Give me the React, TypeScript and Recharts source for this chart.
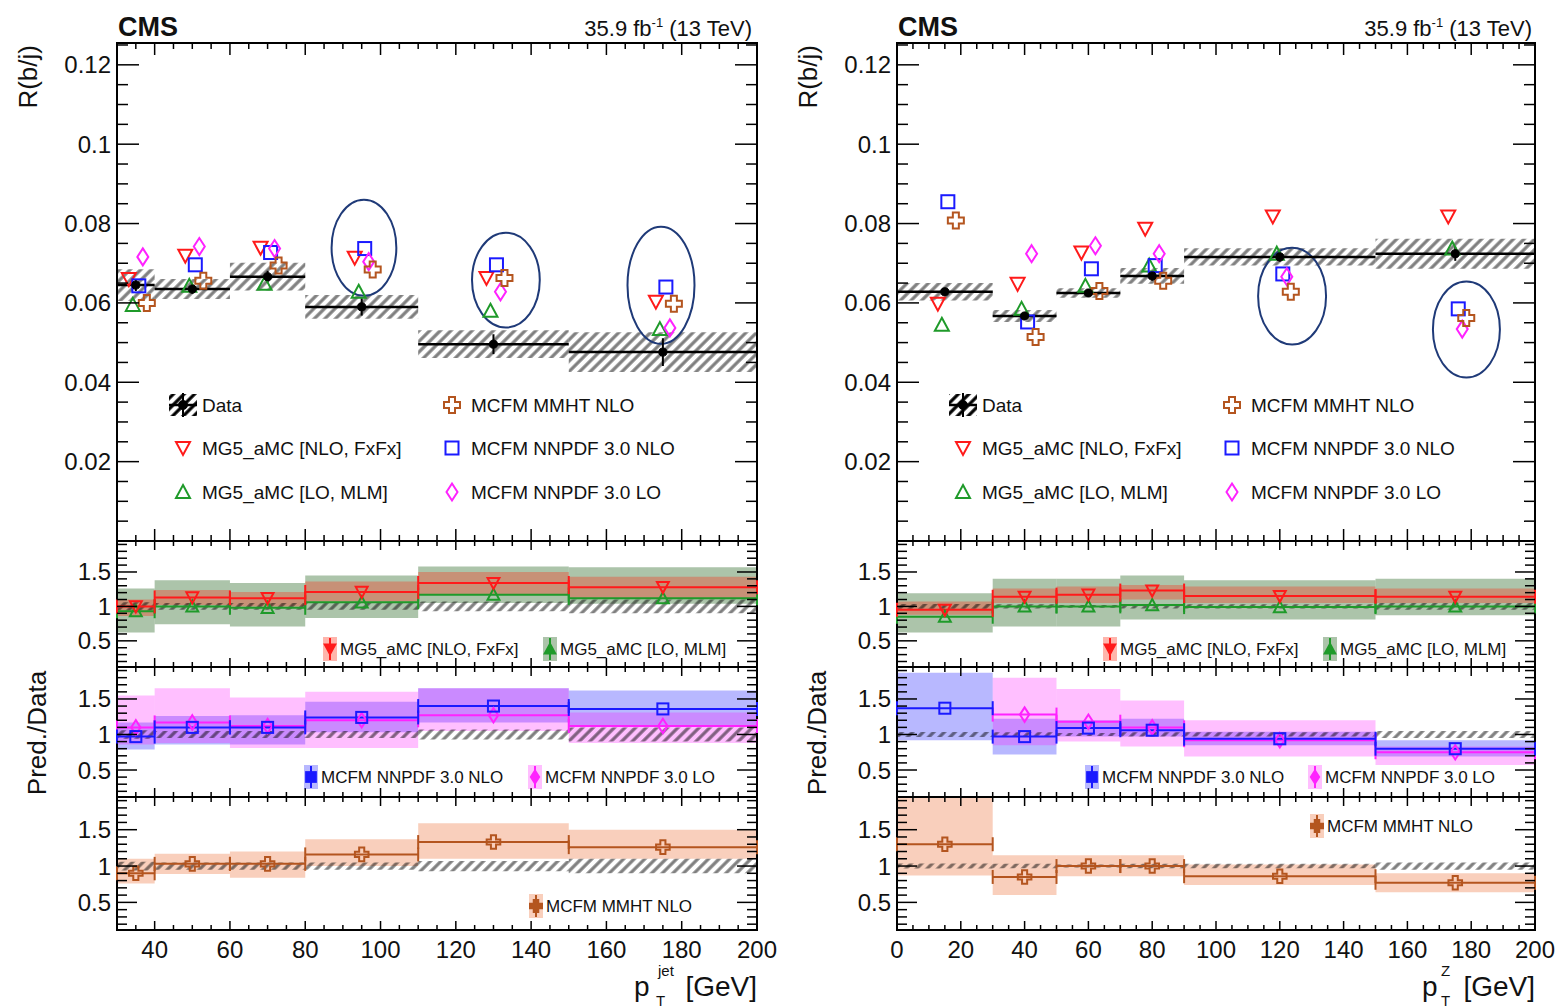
import React from 'react'
import { ComposedChart, Scatter, XAxis, YAxis, ErrorBar, ReferenceArea } from 'recharts'

const FONT = '"Liberation Sans", Arial, Helvetica, sans-serif'
const RED = '#ff1a1a'
const GREEN = '#1f9a2a'
const BLUE = '#1a1aff'
const MAGENTA = '#ff22ff'
const BROWN = '#b4551f'
const RING = '#1f3a78'

// ---- binning
const jetLo = [30, 40, 60, 80, 110, 150]
const jetHi = [40, 60, 80, 110, 150, 200]
const jetMid = [35, 50, 70, 95, 130, 175]
const zLo = [0, 30, 50, 70, 90, 150]
const zHi = [30, 50, 70, 90, 150, 200]
const zMid = [15, 40, 60, 80, 120, 175]

// ---- R(b/j) vs pT jet
const jetData = [0.0645, 0.0635, 0.0666, 0.059, 0.0496, 0.0476]
const jetDataSyst = [0.004, 0.0025, 0.0035, 0.003, 0.0035, 0.005]
const jetDataStat = [0.0015, 0.0012, 0.0015, 0.0022, 0.0025, 0.0035]
const jetNloFxFx = [0.066, 0.0719, 0.0739, 0.0714, 0.0663, 0.0603]
const jetLoMlm = [0.0595, 0.0643, 0.0648, 0.0628, 0.058, 0.0534]
const jetMmht = [0.06, 0.0656, 0.0694, 0.0684, 0.0663, 0.0598]
const jetNnpdfNlo = [0.0643, 0.0696, 0.0727, 0.0737, 0.0696, 0.064]
const jetNnpdfLo = [0.0716, 0.0742, 0.0737, 0.0704, 0.0628, 0.0537]

// ---- R(b/j) vs pT Z
const zData = [0.0628, 0.0567, 0.0625, 0.0668, 0.0716, 0.0724]
const zDataSyst = [0.0022, 0.0015, 0.0012, 0.002, 0.0022, 0.0038]
const zDataStat = [0.001, 0.001, 0.001, 0.0012, 0.0012, 0.0018]
const zNloFxFx = [0.0598, 0.0648, 0.0727, 0.0787, 0.0818, 0.0818]
const zLoMlm = [0.0545, 0.0585, 0.0643, 0.0694, 0.0724, 0.0737]
const zMmht = [0.0808, 0.0514, 0.063, 0.0656, 0.0628, 0.0562]
const zNnpdfNlo = [0.0855, 0.0552, 0.0686, 0.0694, 0.0673, 0.0585]
const zNnpdfLo = [null, 0.0724, 0.0744, 0.0724, 0.0666, 0.0534]

// ---- highlighted regions (ellipses), in data units
const jetRingX1 = [87, 124.3, 165.6]
const jetRingX2 = [104.2, 142.3, 183.4]
const jetRingY1 = [0.0618, 0.0538, 0.0497]
const jetRingY2 = [0.086, 0.0777, 0.0792]
const zRingX1 = [113.2, 168]
const zRingX2 = [134.5, 189]
const zRingY1 = [0.0495, 0.0412]
const zRingY2 = [0.0739, 0.0654]

// ---- ratios, pT jet
const jetDataRel = [0.06, 0.05, 0.05, 0.05, 0.07, 0.1]
const jetRNlo = [1.0, 1.13, 1.12, 1.21, 1.34, 1.28]
const jetRNloLo = [0.86, 1.02, 1.0, 1.07, 1.17, 1.12]
const jetRNloHi = [1.1, 1.24, 1.21, 1.36, 1.5, 1.43]
const jetRMlm = [0.93, 1.0, 0.98, 1.06, 1.17, 1.12]
const jetRMlmLo = [0.62, 0.74, 0.71, 0.83, 1.05, 1.04]
const jetRMlmHi = [1.26, 1.38, 1.34, 1.45, 1.58, 1.57]
const jetRNnNlo = [0.97, 1.1, 1.1, 1.24, 1.4, 1.36]
const jetRNnNloLo = [0.79, 0.86, 0.86, 1.03, 1.17, 1.12]
const jetRNnNloHi = [1.17, 1.26, 1.27, 1.46, 1.65, 1.62]
const jetRNnLo = [1.1, 1.17, 1.12, 1.2, 1.27, 1.12]
const jetRNnLoLo = [0.86, 0.88, 0.81, 0.81, 1.05, 0.88]
const jetRNnLoHi = [1.55, 1.65, 1.52, 1.6, 1.65, 1.31]
const jetRMmht = [0.9, 1.03, 1.03, 1.16, 1.33, 1.26]
const jetRMmhtLo = [0.76, 0.89, 0.84, 1.0, 1.1, 1.1]
const jetRMmhtHi = [1.1, 1.17, 1.2, 1.37, 1.59, 1.5]

// ---- ratios, pT Z
const zDataRel = [0.035, 0.03, 0.02, 0.03, 0.03, 0.05]
const zRNlo = [0.95, 1.14, 1.17, 1.23, 1.15, 1.14]
const zRNloLo = [0.88, 1.05, 1.05, 1.1, 1.05, 1.05]
const zRNloHi = [1.07, 1.26, 1.29, 1.31, 1.29, 1.26]
const zRMlm = [0.85, 1.0, 1.0, 1.02, 0.99, 1.0]
const zRMlmLo = [0.62, 0.71, 0.71, 0.81, 0.81, 0.87]
const zRMlmHi = [1.19, 1.4, 1.4, 1.45, 1.38, 1.4]
const zRNnNlo = [1.37, 0.97, 1.09, 1.06, 0.94, 0.8]
const zRNnNloLo = [0.92, 0.72, 0.97, 0.97, 0.85, 0.69]
const zRNnNloHi = [1.87, 1.22, 1.2, 1.22, 1.04, 0.92]
const zRNnLo = [null, 1.28, 1.18, 1.1, 0.92, 0.75]
const zRNnLoLo = [null, 0.85, 0.9, 0.83, 0.69, 0.57]
const zRNnLoHi = [null, 1.8, 1.64, 1.48, 1.2, 0.83]
const zRMmht = [1.3, 0.85, 1.0, 1.0, 0.86, 0.77]
const zRMmhtLo = [0.87, 0.6, 0.86, 0.86, 0.74, 0.64]
const zRMmhtHi = [1.98, 1.15, 1.15, 1.15, 1.02, 0.9]

// ---- axes
const mainMajor = [0.02, 0.04, 0.06, 0.08, 0.1, 0.12]
const mainLabels = ['0.02', '0.04', '0.06', '0.08', '0.1', '0.12']
const ratioMajor = [0.5, 1, 1.5]
const ratioLabels = ['0.5', '1', '1.5']
const jetXMajor = [40, 60, 80, 100, 120, 140, 160, 180, 200]
const zXMajor = [0, 20, 40, 60, 80, 100, 120, 140, 160, 180, 200]

const MAIN_DOMAIN: [number, number] = [0, 0.1255]
const RATIO_DOMAIN: [number, number] = [0.12, 1.95]

function steps(a: number, b: number, s: number, skip: number[]) {
  const out: number[] = []
  const n = Math.round((b - a) / s)
  for (let i = 0; i <= n; i++) {
    const v = +(a + i * s).toFixed(6)
    if (!skip.some((m) => Math.abs(m - v) < 1e-9)) out.push(v)
  }
  return out
}

const mainMinor = steps(0.005, 0.125, 0.005, mainMajor)
const ratioMinor = steps(0.2, 1.9, 0.1, ratioMajor)
const jetXMinor = steps(30, 200, 5, jetXMajor)
const zXMinor = steps(0, 200, 5, zXMajor)

// layout
const LX = 117
const LW = 640
const RX = 897
const RW = 638
const rows = [
  { top: 43, h: 498 },
  { top: 541, h: 126 },
  { top: 667, h: 130 },
  { top: 797, h: 133 },
]

type Kind = 'triDown' | 'triUp' | 'square' | 'diamond' | 'cross' | 'dot'

function Marker({ cx, cy, kind, color, s = 1, filled = false, dx = 0 }: {
  cx?: number; cy?: number; kind: Kind; color: string; s?: number; filled?: boolean; dx?: number
}) {
  if (cx == null || cy == null || isNaN(cx) || isNaN(cy)) return null
  const x = cx + dx
  const st = { stroke: color, strokeWidth: 2, fill: filled ? color : 'none' }
  if (kind === 'triDown')
    return <polygon points={`${x - 7 * s},${cy - 6 * s} ${x + 7 * s},${cy - 6 * s} ${x},${cy + 7 * s}`} {...st} />
  if (kind === 'triUp')
    return <polygon points={`${x},${cy - 7 * s} ${x + 7 * s},${cy + 6 * s} ${x - 7 * s},${cy + 6 * s}`} {...st} />
  if (kind === 'square')
    return <rect x={x - 6.5 * s} y={cy - 6.5 * s} width={13 * s} height={13 * s} {...st} />
  if (kind === 'diamond')
    return <polygon points={`${x},${cy - 8.5 * s} ${x + 5.5 * s},${cy} ${x},${cy + 8.5 * s} ${x - 5.5 * s},${cy}`} {...st} />
  if (kind === 'cross') {
    const a = 3 * s
    const L = 8 * s
    const d = `M${x - a},${cy - L}H${x + a}V${cy - a}H${x + L}V${cy + a}H${x + a}V${cy + L}H${x - a}V${cy + a}H${x - L}V${cy - a}H${x - a}Z`
    return <path d={d} {...st} />
  }
  return <circle cx={x} cy={cy} r={4.5 * s} fill={color} stroke={color} />
}

function makeXTick(plotH: number, majors: number[], showLabel: boolean, majLen: number, minLen: number) {
  return (p: any) => {
    const v = p.payload.value
    const major = majors.some((m) => Math.abs(m - v) < 1e-9)
    const len = major ? majLen : minLen
    return (
      <g>
        <line x1={p.x} x2={p.x} y1={p.y} y2={p.y - len} stroke="#000" strokeWidth={1.5} />
        <line x1={p.x} x2={p.x} y1={p.y - plotH} y2={p.y - plotH + len} stroke="#000" strokeWidth={1.5} />
        {showLabel && major && (
          <text x={p.x} y={p.y + 28} textAnchor="middle" fontSize={24} fontFamily={FONT} fill="#111">
            {v}
          </text>
        )}
      </g>
    )
  }
}

function makeYTick(plotW: number, majors: number[], labels: string[], majLen: number, minLen: number) {
  return (p: any) => {
    const v = p.payload.value
    const idx = majors.findIndex((m) => Math.abs(m - v) < 1e-9)
    const len = idx >= 0 ? majLen : minLen
    return (
      <g>
        <line x1={p.x} x2={p.x + len} y1={p.y} y2={p.y} stroke="#000" strokeWidth={1.5} />
        <line x1={p.x + plotW} x2={p.x + plotW - len} y1={p.y} y2={p.y} stroke="#000" strokeWidth={1.5} />
        {idx >= 0 && (
          <text x={p.x - 6} y={p.y + 8.5} textAnchor="end" fontSize={24} fontFamily={FONT} fill="#111">
            {labels[idx]}
          </text>
        )}
      </g>
    )
  }
}

function Panel({ left, top, w, h, xDomain, xMajor, xMinor, xLabels, yDomain, yMajor, yLabels, yMinor, ratio, children }: {
  left: number; top: number; w: number; h: number
  xDomain: [number, number]; xMajor: number[]; xMinor: number[]; xLabels: boolean
  yDomain: [number, number]; yMajor: number[]; yLabels: string[]; yMinor: number[]
  ratio: boolean; children: React.ReactNode
}) {
  const padL = 90
  const padT = 15
  const padR = 30
  const padB = xLabels ? 50 : 15
  const xTicks = [...xMinor, ...xMajor].sort((a, b) => a - b)
  const yTicks = [...yMinor, ...yMajor].sort((a, b) => a - b)
  return (
    <div style={{ position: 'absolute', left: left - padL, top: top - padT }}>
      <ComposedChart
        width={w + padL + padR}
        height={h + padT + padB}
        margin={{ top: padT, right: padR, bottom: padB - 1, left: padL - 1 }}
      >
        <XAxis
          type="number"
          dataKey="x"
          domain={xDomain}
          allowDataOverflow
          ticks={xTicks}
          interval={0}
          height={1}
          tickSize={0}
          tickMargin={0}
          axisLine={false}
          tickLine={false}
          tick={makeXTick(h, xMajor, xLabels, ratio ? 9 : 12, ratio ? 5 : 6)}
        />
        <YAxis
          type="number"
          dataKey="y"
          domain={yDomain}
          allowDataOverflow
          ticks={yTicks}
          interval={0}
          width={1}
          tickSize={0}
          tickMargin={0}
          axisLine={false}
          tickLine={false}
          tick={makeYTick(w, yMajor, yLabels, ratio ? 20 : 22, ratio ? 10 : 11)}
        />
        {children}
        <ReferenceArea
          x1={xDomain[0]}
          x2={xDomain[1]}
          y1={yDomain[0]}
          y2={yDomain[1]}
          fill="none"
          stroke="#000"
          strokeWidth={2}
          ifOverflow="visible"
        />
      </ComposedChart>
    </div>
  )
}

function pts(mid: number[], vals: (number | null)[]) {
  return mid.map((x, i) => ({ x, y: vals[i] })).filter((r) => r.y != null)
}

function binRows(mid: number[], lo: number[], hi: number[], vals: (number | null)[], err?: number[]) {
  return mid
    .map((x, i) => ({ x, y: vals[i], xe: (hi[i] - lo[i]) / 2, ye: err ? err[i] : 0 }))
    .filter((r) => r.y != null)
}

function bands(key: string, lo: number[], hi: number[], yLo: (number | null)[], yHi: (number | null)[], fill: string, op: number) {
  return lo.map((l, i) =>
    yLo[i] == null ? null : (
      <ReferenceArea
        key={key + i}
        x1={l}
        x2={hi[i]}
        y1={yLo[i] as number}
        y2={yHi[i] as number}
        fill={fill}
        fillOpacity={op}
        stroke="none"
        ifOverflow="hidden"
      />
    )
  )
}

function hatchBands(key: string, lo: number[], hi: number[], center: number[], err: number[]) {
  return lo.map((l, i) => (
    <ReferenceArea
      key={key + i}
      x1={l}
      x2={hi[i]}
      y1={center[i] - err[i]}
      y2={center[i] + err[i]}
      fill="url(#hatch)"
      stroke="none"
      ifOverflow="hidden"
    />
  ))
}

function rings(key: string, x1: number[], x2: number[], y1: number[], y2: number[]) {
  return x1.map((a, i) => (
    <ReferenceArea
      key={key + i}
      x1={a}
      x2={x2[i]}
      y1={y1[i]}
      y2={y2[i]}
      ifOverflow="visible"
      shape={(p: any) => (
        <ellipse
          cx={p.x + p.width / 2}
          cy={p.y + p.height / 2}
          rx={Math.abs(p.width) / 2}
          ry={Math.abs(p.height) / 2}
          fill="none"
          stroke={RING}
          strokeWidth={2}
        />
      )}
    />
  ))
}

function predScatter(key: string, data: any[], kind: Kind, color: string, dx: number) {
  return (
    <Scatter
      key={key}
      data={data}
      isAnimationActive={false}
      shape={(p: any) => <Marker cx={p.cx} cy={p.cy} kind={kind} color={color} dx={dx} />}
    />
  )
}

function dataScatter(key: string, data: any[]) {
  return (
    <Scatter
      key={key}
      data={data}
      isAnimationActive={false}
      shape={(p: any) => <Marker cx={p.cx} cy={p.cy} kind="dot" color="#000" s={0.9} />}
    >
      <ErrorBar dataKey="xe" direction="x" width={0} stroke="#000" strokeWidth={2.5} isAnimationActive={false} />
      <ErrorBar dataKey="ye" direction="y" width={0} stroke="#000" strokeWidth={2} isAnimationActive={false} />
    </Scatter>
  )
}

function ratioScatter(key: string, data: any[], kind: Kind, color: string) {
  return (
    <Scatter
      key={key}
      data={data}
      isAnimationActive={false}
      shape={(p: any) => <Marker cx={p.cx} cy={p.cy} kind={kind} color={color} s={0.85} />}
    >
      <ErrorBar dataKey="xe" direction="x" width={7} stroke={color} strokeWidth={2} isAnimationActive={false} />
    </Scatter>
  )
}

const ones = [1, 1, 1, 1, 1, 1]
const GREEN_BAND = '#5a8a55'
const RED_BAND = '#ff2a10'
const BLUE_BAND = '#3333ff'
const MAG_BAND = '#ff00ff'
const BROWN_BAND = '#f2946a'

function Side({ x, w, lo, hi, mid, xMajor, xMinor, d }: {
  x: number; w: number; lo: number[]; hi: number[]; mid: number[]; xMajor: number[]; xMinor: number[]
  d: {
    data: number[]; syst: number[]; stat: number[]; nlo: number[]; mlm: number[]; mmht: number[]; nnNlo: number[]; nnLo: (number | null)[]
    ringX1: number[]; ringX2: number[]; ringY1: number[]; ringY2: number[]; rel: number[]
    rNlo: number[]; rNloLo: number[]; rNloHi: number[]; rMlm: number[]; rMlmLo: number[]; rMlmHi: number[]
    rNnNlo: number[]; rNnNloLo: number[]; rNnNloHi: number[]; rNnLo: (number | null)[]; rNnLoLo: (number | null)[]; rNnLoHi: (number | null)[]
    rMmht: number[]; rMmhtLo: number[]; rMmhtHi: number[]
  }
}) {
  const xDomain: [number, number] = [xMinor.concat(xMajor).reduce((a, b) => Math.min(a, b)), 200]
  const common = { left: x, w, xDomain, xMajor, xMinor }
  return (
    <>
      <Panel {...common} top={rows[0].top} h={rows[0].h} xLabels={false} yDomain={MAIN_DOMAIN} yMajor={mainMajor} yLabels={mainLabels} yMinor={mainMinor} ratio={false}>
        {hatchBands('hb', lo, hi, d.data, d.syst)}
        {rings('ring', d.ringX1, d.ringX2, d.ringY1, d.ringY2)}
        {predScatter('mlm', pts(mid, d.mlm), 'triUp', GREEN, -3)}
        {predScatter('nlo', pts(mid, d.nlo), 'triDown', RED, -7)}
        {predScatter('nnlo', pts(mid, d.nnNlo), 'square', BLUE, 3)}
        {predScatter('nnlo2', pts(mid, d.nnLo), 'diamond', MAGENTA, 7)}
        {predScatter('mmht', pts(mid, d.mmht), 'cross', BROWN, 11)}
        {dataScatter('data', binRows(mid, lo, hi, d.data, d.stat))}
      </Panel>
      <Panel {...common} top={rows[1].top} h={rows[1].h} xLabels={false} yDomain={RATIO_DOMAIN} yMajor={ratioMajor} yLabels={ratioLabels} yMinor={ratioMinor} ratio>
        {bands('gb', lo, hi, d.rMlmLo, d.rMlmHi, GREEN_BAND, 0.5)}
        {bands('rb', lo, hi, d.rNloLo, d.rNloHi, RED_BAND, 0.33)}
        {hatchBands('h1', lo, hi, ones, d.rel)}
        {ratioScatter('rm', binRows(mid, lo, hi, d.rMlm), 'triUp', GREEN)}
        {ratioScatter('rn', binRows(mid, lo, hi, d.rNlo), 'triDown', RED)}
      </Panel>
      <Panel {...common} top={rows[2].top} h={rows[2].h} xLabels={false} yDomain={RATIO_DOMAIN} yMajor={ratioMajor} yLabels={ratioLabels} yMinor={ratioMinor} ratio>
        {bands('bb', lo, hi, d.rNnNloLo, d.rNnNloHi, BLUE_BAND, 0.35)}
        {bands('mb', lo, hi, d.rNnLoLo, d.rNnLoHi, MAG_BAND, 0.25)}
        {hatchBands('h2', lo, hi, ones, d.rel)}
        {ratioScatter('rl', binRows(mid, lo, hi, d.rNnLo), 'diamond', MAGENTA)}
        {ratioScatter('rb2', binRows(mid, lo, hi, d.rNnNlo), 'square', BLUE)}
      </Panel>
      <Panel {...common} top={rows[3].top} h={rows[3].h} xLabels yDomain={RATIO_DOMAIN} yMajor={ratioMajor} yLabels={ratioLabels} yMinor={ratioMinor} ratio>
        {bands('wb', lo, hi, d.rMmhtLo, d.rMmhtHi, BROWN_BAND, 0.45)}
        {hatchBands('h3', lo, hi, ones, d.rel)}
        {ratioScatter('rw', binRows(mid, lo, hi, d.rMmht), 'cross', BROWN)}
      </Panel>
    </>
  )
}

// ---- text, legends
function MainLegend({ ox }: { ox: number }) {
  const t = { fontSize: 19, fontFamily: FONT, fill: '#111' }
  const c1 = 183 + ox
  const c2 = 452 + ox
  return (
    <g>
      <rect x={c1 - 14} y={394} width={28} height={22} fill="url(#hatch)" />
      <line x1={c1 - 14} x2={c1 + 14} y1={405} y2={405} stroke="#000" strokeWidth={2.5} />
      <line x1={c1} x2={c1} y1={393} y2={417} stroke="#000" strokeWidth={2} />
      <Marker cx={c1} cy={405} kind="dot" color="#000" />
      <text x={c1 + 19} y={412} {...t}>Data</text>
      <Marker cx={c1} cy={448} kind="triDown" color={RED} />
      <text x={c1 + 19} y={455} {...t}>MG5_aMC [NLO, FxFx]</text>
      <Marker cx={c1} cy={492} kind="triUp" color={GREEN} />
      <text x={c1 + 19} y={499} {...t}>MG5_aMC [LO, MLM]</text>
      <Marker cx={c2} cy={405} kind="cross" color={BROWN} />
      <text x={c2 + 19} y={412} {...t}>MCFM MMHT NLO</text>
      <Marker cx={c2} cy={448} kind="square" color={BLUE} />
      <text x={c2 + 19} y={455} {...t}>MCFM NNPDF 3.0 NLO</text>
      <Marker cx={c2} cy={492} kind="diamond" color={MAGENTA} />
      <text x={c2 + 19} y={499} {...t}>MCFM NNPDF 3.0 LO</text>
    </g>
  )
}

function RatioKey({ x, y, kind, color, band, bandOp, label }: {
  x: number; y: number; kind: Kind; color: string; band: string; bandOp: number; label: string
}) {
  return (
    <g>
      <rect x={x - 7} y={y - 12} width={14} height={24} fill={band} fillOpacity={bandOp} />
      <line x1={x} x2={x} y1={y - 11} y2={y + 11} stroke={color} strokeWidth={2} />
      <Marker cx={x} cy={y} kind={kind} color={color} s={0.75} filled />
      <text x={x + 10} y={y + 6} fontSize={17} fontFamily={FONT} fill="#111">{label}</text>
    </g>
  )
}

function Overlay() {
  const big = { fontFamily: FONT, fill: '#111' }
  return (
    <svg width={1560} height={1008} style={{ position: 'absolute', left: 0, top: 0, pointerEvents: 'none' }}>
      <defs>
        <pattern id="hatch" width={7.5} height={7.5} patternUnits="userSpaceOnUse" patternTransform="rotate(45)">
          <line x1={3.75} y1={0} x2={3.75} y2={7.5} stroke="#000" strokeWidth={3.2} />
        </pattern>
      </defs>
      {[0, RX - LX].map((ox) => (
        <g key={ox}>
          <text x={118 + ox} y={36} fontSize={27} fontWeight="bold" {...big}>CMS</text>
          <text x={752 + ox} y={36} fontSize={22} textAnchor="end" {...big}>
            35.9 fb<tspan fontSize={13} dy={-9}>-1</tspan>
            <tspan dy={9}> (13 TeV)</tspan>
          </text>
          <text transform={`translate(${37 + ox},45) rotate(-90)`} textAnchor="end" fontSize={26} {...big}>R(b/j)</text>
          <text transform={`translate(${46 + ox},733) rotate(-90)`} textAnchor="middle" fontSize={26} {...big}>Pred./Data</text>
          <MainLegend ox={ox} />
        </g>
      ))}
      {/* x titles */}
      <text x={634} y={996} fontSize={28} {...big}>p</text>
      <text x={658} y={976} fontSize={15} {...big}>jet</text>
      <text x={656} y={1006} fontSize={15} {...big}>T</text>
      <text x={757} y={996} fontSize={28} textAnchor="end" {...big}>[GeV]</text>
      <text x={1422} y={996} fontSize={28} {...big}>p</text>
      <text x={1441} y={976} fontSize={15} {...big}>Z</text>
      <text x={1441} y={1006} fontSize={15} {...big}>T</text>
      <text x={1535} y={996} fontSize={28} textAnchor="end" {...big}>[GeV]</text>
      {/* ratio keys, left */}
      <RatioKey x={330} y={649} kind="triDown" color={RED} band={RED_BAND} bandOp={0.35} label="MG5_aMC [NLO, FxFx]" />
      <RatioKey x={550} y={649} kind="triUp" color={GREEN} band={GREEN_BAND} bandOp={0.5} label="MG5_aMC [LO, MLM]" />
      <RatioKey x={311} y={777} kind="square" color={BLUE} band={BLUE_BAND} bandOp={0.35} label="MCFM NNPDF 3.0 NLO" />
      <RatioKey x={535} y={777} kind="diamond" color={MAGENTA} band={MAG_BAND} bandOp={0.25} label="MCFM NNPDF 3.0 LO" />
      <RatioKey x={536} y={906} kind="cross" color={BROWN} band={BROWN_BAND} bandOp={0.45} label="MCFM MMHT NLO" />
      {/* ratio keys, right */}
      <RatioKey x={1110} y={649} kind="triDown" color={RED} band={RED_BAND} bandOp={0.35} label="MG5_aMC [NLO, FxFx]" />
      <RatioKey x={1330} y={649} kind="triUp" color={GREEN} band={GREEN_BAND} bandOp={0.5} label="MG5_aMC [LO, MLM]" />
      <RatioKey x={1092} y={777} kind="square" color={BLUE} band={BLUE_BAND} bandOp={0.35} label="MCFM NNPDF 3.0 NLO" />
      <RatioKey x={1315} y={777} kind="diamond" color={MAGENTA} band={MAG_BAND} bandOp={0.25} label="MCFM NNPDF 3.0 LO" />
      <RatioKey x={1317} y={826} kind="cross" color={BROWN} band={BROWN_BAND} bandOp={0.45} label="MCFM MMHT NLO" />
    </svg>
  )
}

export default function App() {
  return (
    <div style={{ position: 'absolute', left: 0, top: 0, width: 1560, height: 1008, overflow: 'hidden', background: '#fff' }}>
      <Side
        x={LX}
        w={LW}
        lo={jetLo}
        hi={jetHi}
        mid={jetMid}
        xMajor={jetXMajor}
        xMinor={jetXMinor}
        d={{
          data: jetData, syst: jetDataSyst, stat: jetDataStat, nlo: jetNloFxFx, mlm: jetLoMlm, mmht: jetMmht,
          nnNlo: jetNnpdfNlo, nnLo: jetNnpdfLo,
          ringX1: jetRingX1, ringX2: jetRingX2, ringY1: jetRingY1, ringY2: jetRingY2, rel: jetDataRel,
          rNlo: jetRNlo, rNloLo: jetRNloLo, rNloHi: jetRNloHi, rMlm: jetRMlm, rMlmLo: jetRMlmLo, rMlmHi: jetRMlmHi,
          rNnNlo: jetRNnNlo, rNnNloLo: jetRNnNloLo, rNnNloHi: jetRNnNloHi, rNnLo: jetRNnLo, rNnLoLo: jetRNnLoLo, rNnLoHi: jetRNnLoHi,
          rMmht: jetRMmht, rMmhtLo: jetRMmhtLo, rMmhtHi: jetRMmhtHi,
        }}
      />
      <Side
        x={RX}
        w={RW}
        lo={zLo}
        hi={zHi}
        mid={zMid}
        xMajor={zXMajor}
        xMinor={zXMinor}
        d={{
          data: zData, syst: zDataSyst, stat: zDataStat, nlo: zNloFxFx, mlm: zLoMlm, mmht: zMmht,
          nnNlo: zNnpdfNlo, nnLo: zNnpdfLo,
          ringX1: zRingX1, ringX2: zRingX2, ringY1: zRingY1, ringY2: zRingY2, rel: zDataRel,
          rNlo: zRNlo, rNloLo: zRNloLo, rNloHi: zRNloHi, rMlm: zRMlm, rMlmLo: zRMlmLo, rMlmHi: zRMlmHi,
          rNnNlo: zRNnNlo, rNnNloLo: zRNnNloLo, rNnNloHi: zRNnNloHi, rNnLo: zRNnLo, rNnLoLo: zRNnLoLo, rNnLoHi: zRNnLoHi,
          rMmht: zRMmht, rMmhtLo: zRMmhtLo, rMmhtHi: zRMmhtHi,
        }}
      />
      <Overlay />
    </div>
  )
}
